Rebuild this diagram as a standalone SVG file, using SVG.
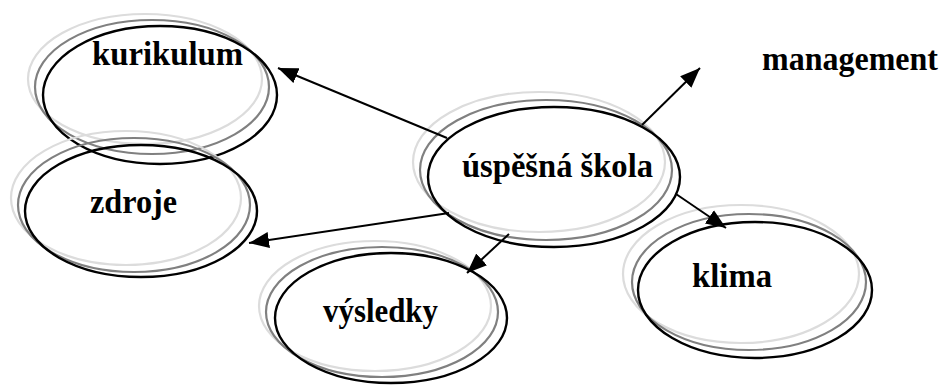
<svg xmlns="http://www.w3.org/2000/svg" width="944" height="385" viewBox="0 0 944 385">
<style>
.l{fill:none;stroke:#dcdcdc;stroke-width:2.2}
.m{fill:none;stroke:#808080;stroke-width:2.2}
.b{fill:none;stroke:#000;stroke-width:2.4}
.t{font-family:"Liberation Serif","Times New Roman",serif;font-weight:bold;font-size:33px;fill:#000}
.c{stroke:#000;stroke-width:2;fill:none;marker-end:url(#ah)}
</style>
<defs>
<marker id="ah" markerUnits="userSpaceOnUse" markerWidth="20" markerHeight="16" refX="20" refY="8" orient="auto">
<path d="M0,0 L20,8 L0,16 z" fill="#000"/>
</marker>
</defs>
<rect width="944" height="385" fill="#fff"/>
<g id="kurikulum">
<ellipse class="l" cx="145" cy="79" rx="117" ry="65"/>
<ellipse class="m" cx="152" cy="87" rx="117" ry="67"/>
<ellipse class="b" cx="160" cy="95" rx="117" ry="69"/>
<text class="t" x="92" y="65" textLength="151" lengthAdjust="spacingAndGlyphs">kurikulum</text>
</g>
<g id="zdroje">
<ellipse class="l" cx="126" cy="198" rx="115" ry="67"/>
<ellipse class="m" cx="134" cy="205" rx="116" ry="67"/>
<ellipse class="b" cx="141" cy="211" rx="116" ry="66"/>
<text class="t" x="90" y="213" textLength="87" lengthAdjust="spacingAndGlyphs">zdroje</text>
</g>
<g id="vysledky">
<ellipse class="l" cx="375" cy="306" rx="116" ry="65"/>
<ellipse class="m" cx="382" cy="312" rx="116" ry="65"/>
<ellipse class="b" cx="391" cy="318" rx="116" ry="65"/>
<text class="t" x="323" y="322" textLength="115" lengthAdjust="spacingAndGlyphs">výsledky</text>
</g>
<g id="uspesna-skola">
<ellipse class="l" cx="539" cy="162" rx="126" ry="70"/>
<ellipse class="m" cx="546" cy="170" rx="126" ry="70"/>
<ellipse class="b" cx="554" cy="177" rx="126" ry="70"/>
<text class="t" x="462" y="177" textLength="191" lengthAdjust="spacingAndGlyphs">úspěšná škola</text>
</g>
<g id="klima">
<ellipse class="l" cx="741" cy="274" rx="118" ry="69"/>
<ellipse class="m" cx="749" cy="282" rx="117" ry="68"/>
<ellipse class="b" cx="755" cy="290" rx="117" ry="68"/>
<text class="t" x="692" y="287" textLength="80" lengthAdjust="spacingAndGlyphs">klima</text>
</g>
<g id="management">
<text class="t" x="762" y="70" textLength="176" lengthAdjust="spacingAndGlyphs">management</text>
</g>
<g id="connectors">
<line class="c" x1="447" y1="138" x2="278" y2="68"/>
<line class="c" x1="449" y1="213" x2="249" y2="243"/>
<line class="c" x1="509" y1="234" x2="467" y2="273"/>
<line class="c" x1="676" y1="194" x2="726" y2="228"/>
<line class="c" x1="642" y1="125" x2="700" y2="68"/>
</g>
</svg>
